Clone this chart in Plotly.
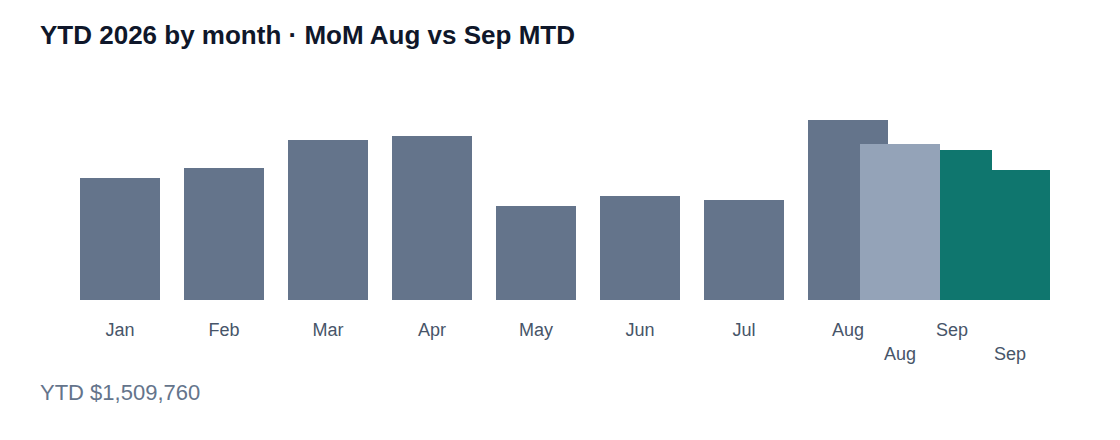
import plotly.graph_objects as go

# ---- data ----
months = ["Jan", "Feb", "Mar", "Apr", "May", "Jun", "Jul", "Aug", "Sep"]
monthly_totals = [152740, 165280, 200310, 205330, 117690, 130210, 125200, 225360, 187640]
mom_labels = ["Aug", "Sep"]
mom_values = [195300, 162750]  # Aug same-period vs Sep MTD
title_text = "YTD 2026 by month · MoM Aug vs Sep MTD"

# ---- style ----
FONT = "Liberation Sans, Arial, sans-serif"
SLATE = "#64748b"
SLATE_LIGHT = "#94a3b8"
TEAL = "#0f766e"
BAR_W = 80 / 104
MOM_OFFSETS = [12 / 104, 18 / 104]

monthly_colors = [TEAL if m == "Sep" else SLATE for m in months]
mom_colors = [SLATE_LIGHT, TEAL]

fig = go.Figure()
fig.add_trace(go.Bar(
    x=months, y=monthly_totals, width=BAR_W,
    marker=dict(color=monthly_colors, line=dict(width=0)),
    hoverinfo="x+y", showlegend=False,
))
fig.add_trace(go.Bar(
    x=mom_labels, y=mom_values, width=BAR_W, offset=MOM_OFFSETS,
    marker=dict(color=mom_colors, line=dict(width=0)),
    hoverinfo="x+y", showlegend=False,
))

# second-row labels under the MoM bars
for lab, off in zip(mom_labels, MOM_OFFSETS):
    pos = months.index(lab) + off + BAR_W / 2
    fig.add_annotation(
        x=pos, y=0, xref="x", yref="y", text=lab, showarrow=False,
        yanchor="middle", yshift=-54,
        font=dict(family=FONT, size=18, color="#475569"),
    )

ytd = sum(monthly_totals)
fig.add_annotation(
    x=0, y=-92 / 240, xref="paper", yref="paper", xanchor="left", yanchor="middle",
    xshift=-2,
    text=f"YTD ${ytd:,}", showarrow=False,
    font=dict(family=FONT, size=22, color=SLATE),
)

fig.update_layout(
    width=1120, height=440,
    margin=dict(l=32, r=72, t=52, b=148),
    paper_bgcolor="white", plot_bgcolor="white",
    barmode="overlay",
    title=dict(
        text=title_text, x=32 / 1120, xref="container", xanchor="left",
        y=1 - 27 / 440, yref="container", yanchor="middle",
        font=dict(family=FONT, size=26, color="#0f172a", weight="bold"),
    ),
    xaxis=dict(
        type="category", range=[-80 / 104, 9.0],
        showgrid=False, zeroline=False, showline=False,
        ticks="", ticklabelstandoff=17,
        tickfont=dict(family=FONT, size=18, color="#475569"),
    ),
    yaxis=dict(
        range=[0, 300450], visible=False, showgrid=False, zeroline=False,
    ),
)

fig.write_html("out.html")
